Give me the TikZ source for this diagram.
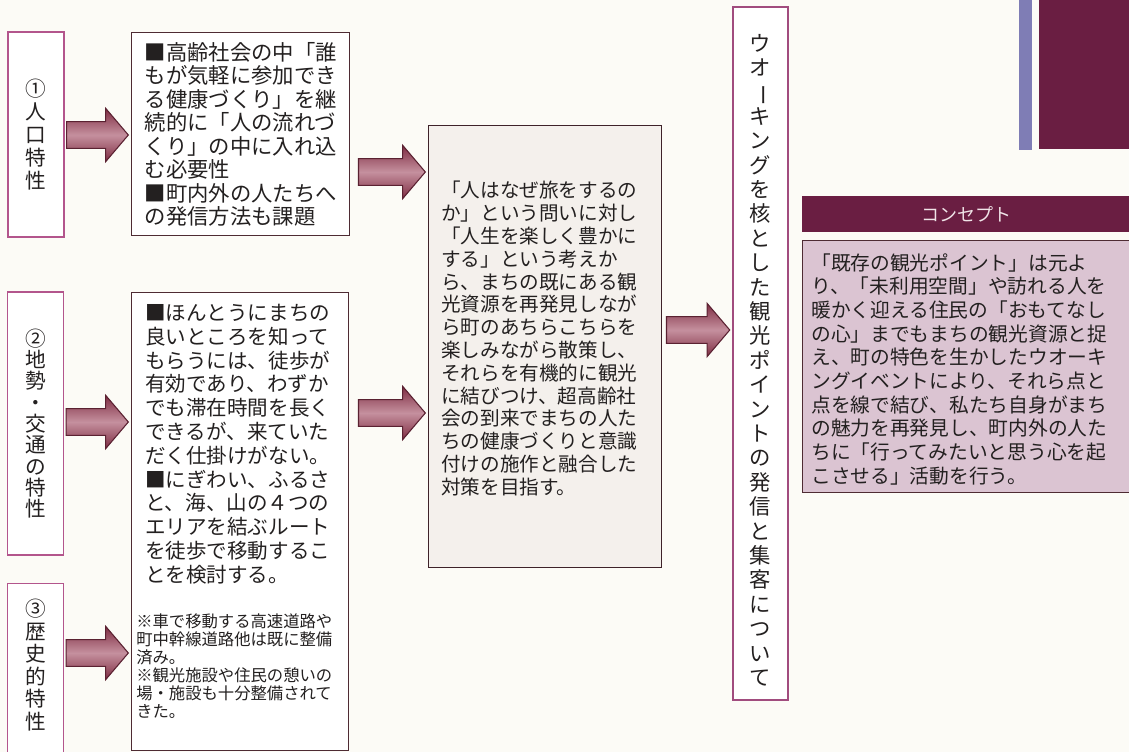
\documentclass[tikz,border=0pt]{standalone}
\usepackage{xcolor}
\usepackage{graphicx}
\usepackage{fontspec}
\setmainfont{Noto Sans CJK JP}
\usetikzlibrary{calc,positioning}

\definecolor{paper}{HTML}{FCFBF6}
\definecolor{pinkline}{HTML}{B3558C}
\definecolor{boxline}{HTML}{4E2B33}
\definecolor{centerfill}{HTML}{F4F0EC}
\definecolor{plum}{HTML}{6A1E42}
\definecolor{headtext}{HTML}{F0E4E8}
\definecolor{bodyfill}{HTML}{DBC4D2}
\definecolor{lavender}{HTML}{7F7DB5}
\definecolor{arrdark}{HTML}{7E2C42}
\definecolor{arrlight}{HTML}{C5909E}
\definecolor{arrline}{HTML}{5A2131}
\definecolor{inktext}{HTML}{232020}

% vertical text: one glyph per line, long vowel mark turned upright
\makeatletter
\newcommand\tate[2][17pt]{\vbox{\baselineskip=#1\relax\lineskiplimit=-100pt\tate@#2\@nil}}
\def\tate@#1{\ifx#1\@nil\else\hbox to 1em{\hss\tate@glyph#1\hss}\expandafter\tate@\fi}
\def\tate@glyph#1{\ifx#1ー\rotatebox[origin=c]{-90}{ー}\else#1\fi}
\makeatother

% block arrow from node #1 to node #2 at height #3, start gap #4
\newcommand\bigarrow[4]{%
    \path[AR1] let \p1=(#1.east |- 0,#3), \p2=(#2.west |- 0,#3) in
        (\x1+#4,\y1+10pt) -- (\x2-19pt,\y1+10pt) -- (\x2-19pt,\y1+20pt)
        -- (\x2-2pt,\y1) -- (\x2-19pt,\y1-20pt) -- (\x2-19pt,\y1-10pt)
        -- (\x1+#4,\y1-10pt) -- cycle;}

\tikzset{
    SB1/.style ={rectangle, minimum width = 42pt, inner sep=0pt, draw=pinkline, line width=0.9pt, fill=white, text=inktext, font={\fontsize{15.5pt}{17pt}\selectfont}},
    ST1/.style ={inner sep=0pt, text=inktext, font={\fontsize{15.5pt}{17pt}\selectfont}},
    TB1/.style ={rectangle, inner sep=0pt, draw=boxline, line width=1.1pt, fill=white, text=inktext, align=left},
    TB2/.style ={rectangle, inner sep=0pt, draw=boxline!80!black, line width=1.1pt, fill=centerfill},
    TX1/.style ={inner sep=0pt, text=inktext, align=left},
    HB1/.style ={rectangle, inner sep=0pt, fill=plum, text=headtext, font={\fontsize{13.5pt}{15pt}\selectfont}},
    CB1/.style ={rectangle, inner sep=0pt, draw=boxline, line width=1.1pt, fill=bodyfill},
    AR1/.style ={top color=arrdark, bottom color=arrdark, middle color=arrlight, draw=arrline, line width=0.8pt, line join=miter}
}

\begin{document}
\begin{tikzpicture}[x=0.75pt,y=-0.75pt]
    \fill[paper] (0,0) rectangle (1129,752);
    \useasboundingbox (0,0) rectangle (1129,752);
    \fill[lavender] (1019,0) rectangle (1032,150);
    \fill[plum] (1039,0) rectangle (1129,149);

    \node[SB1, minimum height=153.75pt] (b1) at (36,134.5) {\tate[17.25pt]{①人口特性}};
    \node[SB1, minimum height=197.25pt] (b2) at (35.5,423.5) {\tate[16pt]{②地勢・交通の特性}};
    \node[SB1, minimum height=140pt, anchor=north] (b3) at (35.5,583) {};
    \node[ST1] (b3t) at (35.5,665) {\tate[16.9pt]{③歴史的特性}};

    \node[TB1, minimum width=163.5pt, minimum height=152.25pt, anchor=north west,
        font={\fontsize{16pt}{17.6pt}\selectfont}] (tbox) at (131,32)
        {■高齢社会の中「誰\\もが気軽に参加でき\\る健康づくり」を継\\続的に「人の流れづ\\くり」の中に入れ込\\む必要性\\■町内外の人たちへ\\の発信方法も課題};

    \node[TB1, minimum width=162.75pt, minimum height=343.5pt, anchor=north west] (mbox) at (131,292) {};
    \node[TX1, anchor=north west, font={\fontsize{15.4pt}{17.85pt}\selectfont}] (mtext) at (145,304)
        {■ほんとうにまちの\\良いところを知って\\もらうには、徒歩が\\有効であり、わずか\\でも滞在時間を長く\\できるが、来ていた\\だく仕掛けがない。\\■にぎわい、ふるさ\\と、海、山の４つの\\エリアを結ぶルート\\を徒歩で移動するこ\\とを検討する。};
    \node[TX1, anchor=north west, font={\fontsize{12.25pt}{13.5pt}\selectfont}] (mnote) at (136,613)
        {※車で移動する高速道路や\\町中幹線道路他は既に整備\\済み。\\※観光施設や住民の憩いの\\場・施設も十分整備されて\\きた。};

    \node[TB2, minimum width=174.75pt, minimum height=331.5pt, anchor=north west] (cbox) at (428,125) {};
    \node[TX1, anchor=north west, font={\fontsize{14.7pt}{17.1pt}\selectfont}] (ctext) at (441,181)
        {「人はなぜ旅をするの\\か」という問いに対し\\「人生を楽しく豊かに\\する」という考えか\\ら、まちの既にある観\\光資源を再発見しなが\\ら町のあちらこちらを\\楽しみながら散策し、\\それらを有機的に観光\\に結びつけ、超高齢社\\会の到来でまちの人た\\ちの健康づくりと意識\\付けの施作と融合した\\対策を目指す。};

    \node[SB1, minimum width=41.25pt, minimum height=519.75pt, draw=pinkline!90!black] (vbox) at (760.5,353.5) {};
    \node[ST1, font={\fontsize{16pt}{18pt}\selectfont}] (vtext) at (760.5,360)
        {\tate[18.3pt]{ウオーキングを核とした観光ポイントの発信と集客について}};

    \node[HB1, minimum width=246pt, minimum height=27pt, anchor=north west] (chead) at (802,196) {コンセプト};
    \node[CB1, minimum width=260pt, minimum height=189pt, anchor=north west] (cbody) at (802,240) {};
    \node[TX1, anchor=north west, font={\fontsize{14.8pt}{17.75pt}\selectfont}] (ctxt) at (811,253)
        {「既存の観光ポイント」は元よ\\り、「未利用空間」や訪れる人を\\暖かく迎える住民の「おもてなし\\の心」までもまちの観光資源と捉\\え、町の特色を生かしたウオーキ\\ングイベントにより、それら点と\\点を線で結び、私たち自身がまち\\の魅力を再発見し、町内外の人た\\ちに「行ってみたいと思う心を起\\こさせる」活動を行う。};

    \bigarrow{b1}{tbox}{135}{1.5pt}
    \bigarrow{b2}{mbox}{422}{1.5pt}
    \bigarrow{b3}{mbox}{653}{1.5pt}
    \bigarrow{tbox}{cbox}{172}{6pt}
    \bigarrow{mbox}{cbox}{413}{6.75pt}
    \bigarrow{cbox}{vbox}{330}{3pt}
\end{tikzpicture}
\end{document}
